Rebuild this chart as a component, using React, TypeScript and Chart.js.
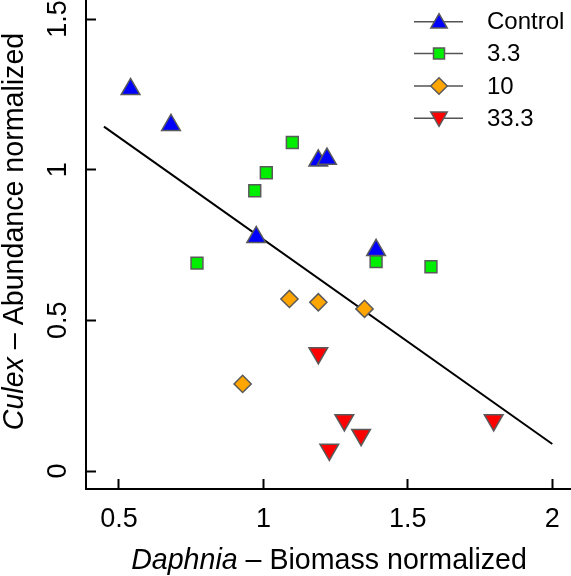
import React, { useEffect, useRef } from 'react';
import { Chart, registerables } from 'chart.js';

Chart.register(...registerables);

// ---- data ----
const seriesNames = ['Control', '3.3', '10', '33.3'];
const controlX = [0.54, 0.68, 0.975, 1.19, 1.22, 1.39];
const controlY = [1.267, 1.148, 0.776, 1.03, 1.036, 0.733];
const c3X = [0.77, 0.97, 1.01, 1.1, 1.39, 1.58];
const c3Y = [0.69, 0.93, 0.99, 1.09, 0.695, 0.678];
const c10X = [0.928, 1.09, 1.19, 1.35];
const c10Y = [0.289, 0.571, 0.56, 0.538];
const c33X = [1.19, 1.28, 1.338, 1.228, 1.797];
const c33Y = [0.391, 0.169, 0.12, 0.071, 0.169];
const fitX = [0.448, 2.0];
const fitY = [1.143, 0.0896];
const xTicks = [0.5, 1, 1.5, 2];
const xTickLabels = ['0.5', '1', '1.5', '2'];
const yTicks = [0, 0.5, 1, 1.5];
const yTickLabels = ['0', '0.5', '1', '1.5'];

const FONT = "'Liberation Sans', Arial, Helvetica, sans-serif";
const BORDER = '#5a5a5a';
const fills = ['#0000ff', '#00ee00', '#ffa500', '#ff0000'];
const shapes = ['up', 'rect', 'diamond', 'down'];

const toPts = (xs: number[], ys: number[]) => xs.map((x, i) => ({ x, y: ys[i] }));

function drawMarker(ctx: CanvasRenderingContext2D, shape: string, x: number, y: number, r: number, fill: string) {
  ctx.beginPath();
  if (shape === 'up' || shape === 'down') {
    const s = shape === 'up' ? 1 : -1;
    ctx.moveTo(x, y - s * r);
    ctx.lineTo(x + r * Math.sqrt(3) / 2, y + s * r / 2);
    ctx.lineTo(x - r * Math.sqrt(3) / 2, y + s * r / 2);
    ctx.closePath();
  } else if (shape === 'rect') {
    const h = r * Math.SQRT1_2;
    ctx.rect(x - h, y - h, 2 * h, 2 * h);
  } else {
    ctx.moveTo(x, y - r);
    ctx.lineTo(x + r, y);
    ctx.lineTo(x, y + r);
    ctx.lineTo(x - r, y);
    ctx.closePath();
  }
  ctx.fillStyle = fill;
  ctx.fill();
  ctx.lineWidth = 1.5;
  ctx.strokeStyle = BORDER;
  ctx.stroke();
}

const decorPlugin = {
  id: 'decor',
  afterDraw(chart: any) {
    const ctx: CanvasRenderingContext2D = chart.ctx;
    const area = chart.chartArea;
    ctx.save();
    // legend
    const rowY = [21.7, 53.5, 86, 118.3];
    const legendMarkerR = [9.5, 7.8, 8.3, 9.5];
    seriesNames.forEach((name, i) => {
      const y = rowY[i];
      ctx.beginPath();
      ctx.moveTo(414, y);
      ctx.lineTo(463, y);
      ctx.lineWidth = 1.6;
      ctx.strokeStyle = '#555';
      ctx.stroke();
      drawMarker(ctx, shapes[i], 439, y + (shapes[i] === 'up' ? 1.5 : shapes[i] === 'down' ? -1.5 : 0), legendMarkerR[i], fills[i]);
      ctx.fillStyle = '#000';
      ctx.font = `24px ${FONT}`;
      ctx.textAlign = 'left';
      ctx.textBaseline = 'middle';
      ctx.fillText(name, 487, y + 1);
    });

    // axis titles (mixed italic)
    const drawTitle = (italic: string, rest: string) => {
      ctx.font = `italic 28.6px ${FONT}`;
      const w1 = ctx.measureText(italic).width;
      ctx.font = `28.6px ${FONT}`;
      const w2 = ctx.measureText(rest).width;
      const start = -(w1 + w2) / 2;
      ctx.textAlign = 'left';
      ctx.textBaseline = 'alphabetic';
      ctx.fillStyle = '#000';
      ctx.font = `italic 28.6px ${FONT}`;
      ctx.fillText(italic, start, 0);
      ctx.font = `28.6px ${FONT}`;
      ctx.fillText(rest, start + w1, 0);
    };
    ctx.save();
    ctx.translate((area.left + area.right) / 2 + 0.5, 569);
    drawTitle('Daphnia', ' \u2013 Biomass normalized');
    ctx.restore();
    ctx.save();
    ctx.translate(22.5, 231.5);
    ctx.rotate(-Math.PI / 2);
    drawTitle('Culex', ' \u2013 Abundance normalized');
    ctx.restore();
    ctx.restore();
  },
};

const zeroPad = (s: any) => {
  s.paddingTop = 0;
  s.paddingBottom = 0;
  s.paddingLeft = 0;
  s.paddingRight = 0;
};

export default function App() {
  const ref = useRef<HTMLCanvasElement | null>(null);
  useEffect(() => {
    if (!ref.current) return;
    const pointDs = (i: number, xs: number[], ys: number[], radius: number) => ({
      type: 'scatter' as const,
      label: seriesNames[i],
      data: toPts(xs, ys),
      pointStyle: i === 1 ? 'rect' : i === 2 ? 'rectRot' : 'triangle',
      rotation: i === 3 ? 180 : 0,
      pointRadius: radius,
      pointHoverRadius: radius,
      backgroundColor: fills[i],
      borderColor: BORDER,
      borderWidth: 1.5,
      order: 1,
    });
    const chart = new Chart(ref.current, {
      type: 'scatter',
      data: {
        datasets: [
          {
            type: 'line' as const,
            label: 'fit',
            data: toPts(fitX, fitY),
            borderColor: '#000',
            borderWidth: 2,
            pointRadius: 0,
            showLine: true,
            fill: false,
            order: 10,
          } as any,
          pointDs(0, controlX, controlY, 10.8),
          pointDs(1, c3X, c3Y, 8.4),
          pointDs(2, c10X, c10Y, 8.6),
          pointDs(3, c33X, c33Y, 10.8),
        ],
      },
      options: {
        animation: false,
        responsive: false,
        maintainAspectRatio: false,
        layout: { padding: 0, autoPadding: false },
        plugins: { legend: { display: false }, tooltip: { enabled: false } },
        scales: {
          x: {
            type: 'linear',
            position: 'bottom',
            min: 0.3858,
            max: 2.0647,
            afterBuildTicks: (s: any) => { s.ticks = xTicks.map((v) => ({ value: v })); },
            afterFit: (s: any) => { s.height = 87; zeroPad(s); },
            border: { display: true, color: '#000', width: 2 },
            grid: { drawOnChartArea: false, drawTicks: true, tickLength: -10, tickWidth: 2, tickColor: '#000' },
            ticks: {
              padding: 24,
              color: '#000',
              font: { family: FONT, size: 27 },
              maxRotation: 0,
              minRotation: 0,
              callback: (v: any) => { const i = xTicks.indexOf(Number(v)); return i >= 0 ? xTickLabels[i] : ''; },
            },
          },
          y: {
            type: 'linear',
            position: 'left',
            min: -0.0597,
            max: 1.5631,
            afterBuildTicks: (s: any) => { s.ticks = yTicks.map((v) => ({ value: v })); },
            afterFit: (s: any) => { s.width = 86; zeroPad(s); },
            border: { display: true, color: '#000', width: 2 },
            grid: { drawOnChartArea: false, drawTicks: true, tickLength: -10, tickWidth: 2, tickColor: '#000' },
            ticks: {
              padding: 19,
              crossAlign: 'center',
              minRotation: 90,
              maxRotation: 90,
              color: '#000',
              font: { family: FONT, size: 27 },
              callback: (v: any) => { const i = yTicks.indexOf(Number(v)); return i >= 0 ? yTickLabels[i] : ''; },
            },
          },
        },
      } as any,
      plugins: [decorPlugin],
    });
    return () => chart.destroy();
  }, []);
  return (
    <div style={{ position: 'absolute', left: 0, top: 0, width: 571, height: 576, background: '#fff' }}>
      <canvas ref={ref} width={571} height={576} style={{ display: 'block' }} />
    </div>
  );
}
